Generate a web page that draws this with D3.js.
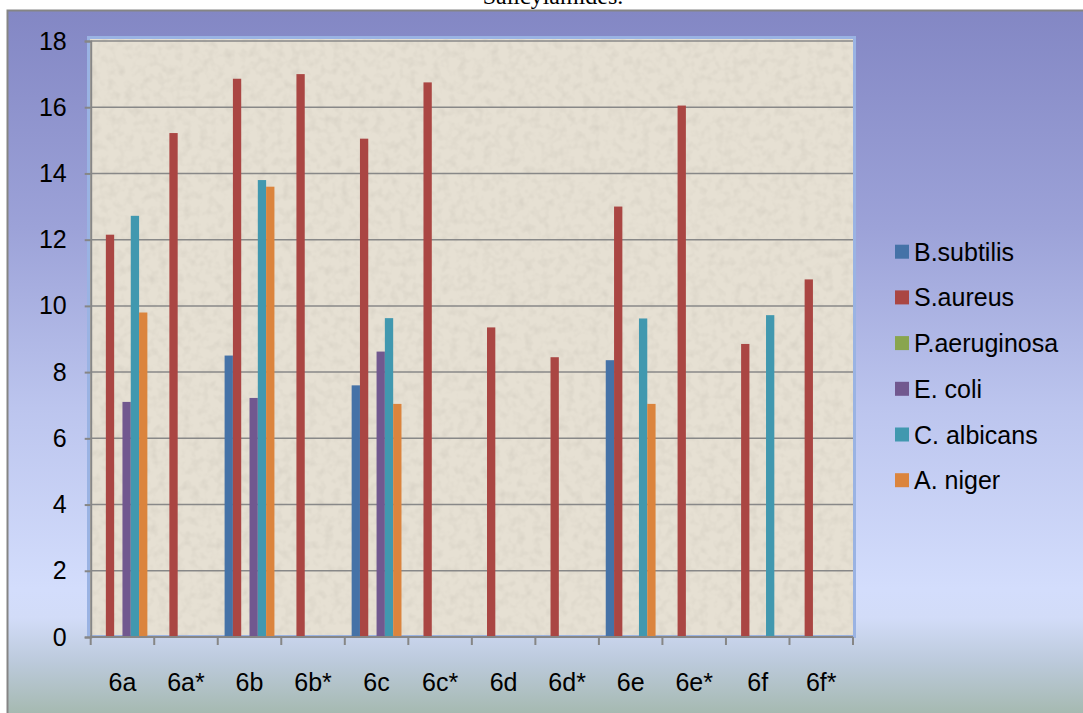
<!DOCTYPE html>
<html>
<head>
<meta charset="utf-8">
<script src="https://cdn.jsdelivr.net/npm/d3@7"></script>
<style>
  body { margin: 0; background: #fff; }
  svg { display: block; }
  text { font-family: "Liberation Sans", Arial, sans-serif; }
</style>
</head>
<body>
<div id="chart"></div>
<script>
// compounds on the x axis
const categories = ["6a", "6a*", "6b", "6b*", "6c", "6c*", "6d", "6d*", "6e", "6e*", "6f", "6f*"];

// organisms (legend order)
const seriesNames = ["B.subtilis", "S.aureus", "P.aeruginosa", "E. coli", "C. albicans", "A. niger"];

// zone of inhibition values, one array per organism
const bSubtilis   = [0,     0,     8.5,   0,  7.6,   0,     0,    0,    8.36, 0,     0,    0];
const sAureus     = [12.15, 15.22, 16.86, 17, 15.05, 16.75, 9.35, 8.45, 13.0, 16.05, 8.85, 10.8];
const pAeruginosa = [0,     0,     0,     0,  0,     0,     0,    0,    0,    0,     0,    0];
const eColi       = [7.1,   0,     7.22,  0,  8.62,  0,     0,    0,    0,    0,     0,    0];
const cAlbicans   = [12.72, 0,     13.8,  0,  9.63,  0,     0,    0,    9.62, 0,     9.72, 0];
const aNiger      = [9.8,   0,     13.6,  0,  7.04,  0,     0,    0,    7.04, 0,     0,    0];

const yTicks = [0, 2, 4, 6, 8, 10, 12, 14, 16, 18];

const colors = ["#4572a7", "#aa4643", "#89a54e", "#71588f", "#4198af", "#db843d"];

const allSeries = [bSubtilis, sAureus, pAeruginosa, eColi, cAlbicans, aNiger];

// table built from the arrays above
const table = categories.map((c, i) => {
  const row = { cat: c };
  seriesNames.forEach((s, j) => { row[s] = allSeries[j][i]; });
  return row;
});

const width = 1083, height = 713;
const plotLeft = 90.7, plotRight = 853, plotTop = 41, plotBottom = 637;

const svg = d3.select("#chart")
  .append("svg")
  .attr("width", width)
  .attr("height", height);

const defs = svg.append("defs");

const grad = defs.append("linearGradient")
  .attr("id", "bg")
  .attr("x1", 0).attr("y1", 0).attr("x2", 0).attr("y2", 1);
grad.selectAll("stop")
  .data([
    [0, "#8387c4"], [0.3, "#9ca2d8"], [0.55, "#bcc5ee"], [0.8, "#d3ddfc"],
    [0.84, "#d2dcf8"], [0.9, "#bccadc"], [1, "#9db3a0"]
  ])
  .join("stop")
  .attr("offset", d => d[0])
  .attr("stop-color", d => d[1]);

// speckled paper texture for the plot area
const noise = defs.append("filter").attr("id", "noise")
  .attr("x", 0).attr("y", 0).attr("width", "100%").attr("height", "100%");
noise.append("feTurbulence")
  .attr("type", "fractalNoise")
  .attr("baseFrequency", 0.12)
  .attr("numOctaves", 2)
  .attr("seed", 4);
noise.append("feColorMatrix")
  .attr("values", "0 0 0 0 0.45  0 0 0 0 0.42  0 0 0 0 0.36  0 0 0 -2.2 1.25");

// title, mostly cut off at the top
svg.append("text")
  .attr("x", 553)
  .attr("y", 4)
  .attr("text-anchor", "middle")
  .style("font-family", "'Liberation Serif', 'Times New Roman', serif")
  .style("font-size", "24px")
  .attr("fill", "#000")
  .text("Salicylamides.");

// chart frame
svg.append("rect")
  .attr("x", 7.5).attr("y", 10.5)
  .attr("width", width + 10).attr("height", height + 10)
  .attr("fill", "url(#bg)")
  .attr("stroke", "#858585")
  .attr("stroke-width", 2);

// plot area
svg.append("rect")
  .attr("x", 88.5).attr("y", 37.5)
  .attr("width", 766).attr("height", 599)
  .attr("fill", "#e6e0d3")
  .attr("stroke", "#9ab3e3")
  .attr("stroke-width", 3);
svg.append("rect")
  .attr("x", 90).attr("y", 39)
  .attr("width", 763).attr("height", 597)
  .attr("filter", "url(#noise)")
  .attr("opacity", 0.22);

const x0 = d3.scaleBand()
  .domain(categories)
  .range([plotLeft, plotRight])
  .padding(0);

const x1 = d3.scaleBand()
  .domain(seriesNames)
  .range([6.85, x0.bandwidth() - 6.85])
  .padding(0);

const y = d3.scaleLinear()
  .domain([0, 18])
  .range([plotBottom, plotTop]);

// gridlines
svg.append("g")
  .selectAll("line")
  .data(yTicks.filter(d => d > 0))
  .join("line")
  .attr("x1", plotLeft).attr("x2", plotRight)
  .attr("y1", d => y(d)).attr("y2", d => y(d))
  .attr("stroke", "#888")
  .attr("stroke-width", 1.5);

// bars
svg.append("g")
  .selectAll("g")
  .data(table)
  .join("g")
  .attr("transform", d => `translate(${x0(d.cat)},0)`)
  .selectAll("rect")
  .data(d => seriesNames.map((s, j) => ({ key: s, value: d[s], color: colors[j] })))
  .join("rect")
  .attr("x", d => x1(d.key))
  .attr("width", x1.bandwidth())
  .attr("y", d => y(d.value))
  .attr("height", d => y(0) - y(d.value))
  .attr("fill", d => d.color);

// y axis
const yAxis = svg.append("g")
  .attr("transform", `translate(${plotLeft},0)`)
  .call(d3.axisLeft(y).tickValues(yTicks).tickSize(6).tickPadding(18).tickFormat(d3.format("d")));
yAxis.select(".domain").attr("stroke", "#868686").attr("stroke-width", 2);
yAxis.selectAll(".tick line").attr("stroke", "#868686").attr("stroke-width", 2);
yAxis.selectAll("text")
  .style("font-size", "25px")
  .attr("fill", "#000");

// x axis
const tickPos = categories.map(c => x0(c)).concat([plotRight]);
const xAxis = svg.append("g");
xAxis.append("line")
  .attr("x1", plotLeft).attr("x2", plotRight)
  .attr("y1", plotBottom).attr("y2", plotBottom)
  .attr("stroke", "#868686").attr("stroke-width", 2);
xAxis.selectAll("line.tick")
  .data(tickPos)
  .join("line")
  .attr("class", "tick")
  .attr("x1", d => d).attr("x2", d => d)
  .attr("y1", plotBottom).attr("y2", plotBottom + 8)
  .attr("stroke", "#868686").attr("stroke-width", 2);
xAxis.selectAll("text")
  .data(categories)
  .join("text")
  .attr("x", d => x0(d) + x0.bandwidth() / 2)
  .attr("y", 691)
  .attr("text-anchor", "middle")
  .style("font-size", "25px")
  .attr("fill", "#000")
  .text(d => d);

// legend
const legend = svg.append("g")
  .selectAll("g")
  .data(seriesNames)
  .join("g")
  .attr("transform", (d, i) => `translate(895,${251.7 + i * 45.7})`);
legend.append("rect")
  .attr("x", 0).attr("y", -7)
  .attr("width", 14).attr("height", 14)
  .attr("fill", (d, i) => colors[i]);
legend.append("text")
  .attr("x", 19)
  .attr("y", 0)
  .attr("dy", "0.36em")
  .style("font-size", "25px")
  .attr("fill", "#000")
  .text(d => d);
</script>
</body>
</html>
